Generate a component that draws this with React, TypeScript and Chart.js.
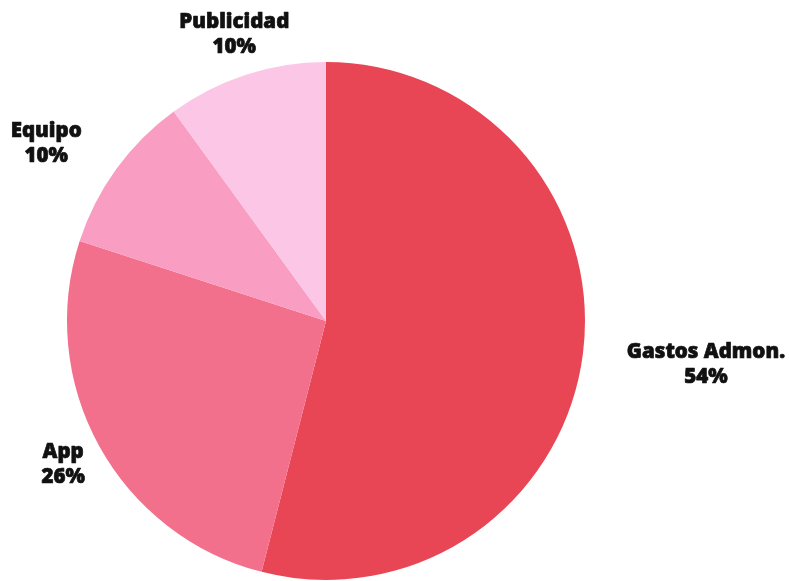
import React, { useEffect, useRef } from "react";
import { Chart, registerables } from "chart.js";

Chart.register(...registerables);

const categories = ["Gastos Admon.", "App", "Equipo", "Publicidad"];
const values = [54, 26, 10, 10];
const percentLabels = ["54%", "26%", "10%", "10%"];
const colors = ["#E84655", "#F3708D", "#F99DC2", "#FCC6E6"];

// label placement: radial factor and fine offset per slice
const labelRadius = [1.467, 1.158, 1.235, 1.158];
const labelOffset: [number, number][] = [[3, -3], [0, 0], [-21, 11], [1, -1]];

const labelPlugin = {
  id: "outerLabels",
  afterDatasetsDraw(chart: any) {
    const ctx = chart.ctx;
    const meta = chart.getDatasetMeta(0);
    ctx.save();
    ctx.fillStyle = "#111111";
    ctx.strokeStyle = "#111111";
    ctx.lineWidth = 0.7;
    ctx.lineJoin = "round";
    ctx.textAlign = "center";
    ctx.textBaseline = "middle";
    ctx.font = "800 20.5px 'Open Sans', 'DejaVu Sans', sans-serif";
    meta.data.forEach((arc: any, i: number) => {
      const p = arc.getProps(["x", "y", "startAngle", "endAngle", "outerRadius"], true);
      const mid = (p.startAngle + p.endAngle) / 2;
      const r = p.outerRadius * labelRadius[i];
      const x = p.x + Math.cos(mid) * r + labelOffset[i][0];
      const y = p.y + Math.sin(mid) * r + labelOffset[i][1];
      ctx.fillText(categories[i], x, y - 13);
      ctx.strokeText(categories[i], x, y - 13);
      ctx.fillText(percentLabels[i], x, y + 12);
      ctx.strokeText(percentLabels[i], x, y + 12);
    });
    ctx.restore();
  },
};

export default function App() {
  const ref = useRef<HTMLCanvasElement | null>(null);
  useEffect(() => {
    document.body.style.margin = "0";
    const chart = new Chart(ref.current as HTMLCanvasElement, {
      type: "pie",
      data: {
        labels: categories,
        datasets: [
          {
            data: values,
            backgroundColor: colors,
            borderWidth: 0,
          },
        ],
      },
      options: {
        animation: false,
        responsive: false,
        layout: { padding: { left: 67, right: 204, top: 62, bottom: 1 } },
        plugins: {
          legend: { display: false },
          tooltip: { enabled: false },
        },
      },
      plugins: [labelPlugin],
    });
    return () => chart.destroy();
  }, []);
  return (
    <div style={{ width: 789, height: 581, background: "#ffffff" }}>
      <canvas ref={ref} width={789} height={581} style={{ display: "block" }} />
    </div>
  );
}
